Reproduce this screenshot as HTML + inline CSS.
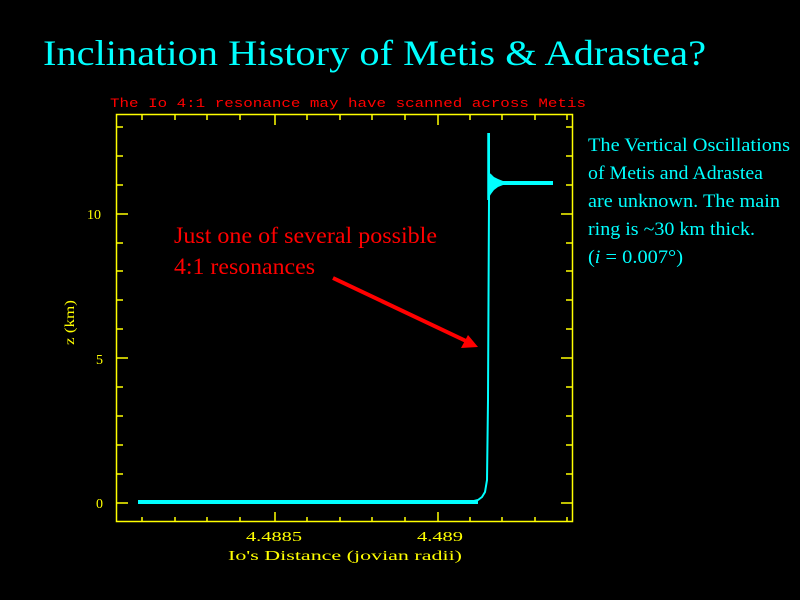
<!DOCTYPE html>
<html><head><style>html,body{margin:0;padding:0;background:#000;}svg{display:block}</style></head>
<body>
<svg width="800" height="600" viewBox="0 0 800 600" xmlns="http://www.w3.org/2000/svg">
<rect width="800" height="600" fill="#000"/>
<text x="43" y="65" font-family="Liberation Serif, serif" font-size="36" fill="#00ffff" textLength="663" lengthAdjust="spacingAndGlyphs">Inclination History of Metis &amp; Adrastea?</text>
<text x="110" y="107" font-family="Liberation Mono, monospace" font-size="13" fill="#ff0000" textLength="476" lengthAdjust="spacingAndGlyphs">The Io 4:1 resonance may have scanned across Metis</text>
<g stroke="#ffff00" stroke-width="1.5" fill="none">
<rect x="116.5" y="114.5" width="456" height="407"/>
<path d="M142 522v-5M175 522v-5M207 522v-5M240 522v-5M275 522v-10M307 522v-5M340 522v-5M372 522v-5M405 522v-5M438 522v-10M470 522v-5M502 522v-5M535 522v-5M567 522v-5
M142 115v5M175 115v5M207 115v5M240 115v5M275 115v10M307 115v5M340 115v5M372 115v5M405 115v5M438 115v10M470 115v5M502 115v5M535 115v5M567 115v5
M117 503h11M117 474h6M117 445h6M117 416h6M117 387h6M117 358h11M117 329h6M117 300h6M117 271h6M117 243h6M117 214h11M117 185h6M117 156h6M117 127h6
M572 503h-11M572 474h-6M572 445h-6M572 416h-6M572 387h-6M572 358h-11M572 329h-6M572 300h-6M572 271h-6M572 243h-6M572 214h-11M572 185h-6M572 156h-6M572 127h-6"/>
</g>
<g font-family="Liberation Serif, serif" font-size="14" fill="#ffff00">
<text x="87" y="219">10</text>
<text x="96" y="364">5</text>
<text x="96" y="508">0</text>
<text x="246" y="541" textLength="56" lengthAdjust="spacingAndGlyphs">4.4885</text>
<text x="417" y="541" textLength="46" lengthAdjust="spacingAndGlyphs">4.489</text>
<text x="228" y="560" textLength="234" lengthAdjust="spacingAndGlyphs">Io's Distance (jovian radii)</text>
<text transform="translate(74,345) rotate(-90)" textLength="45" lengthAdjust="spacingAndGlyphs">z (km)</text>
</g>
<g fill="#00ffff" stroke="#00ffff">
<path d="M138 502H470L478 500L482 497L485 492L487 480L488 400L488.5 300L489 200L489 133" stroke-width="2" fill="none"/>
<path d="M138 502H478" stroke-width="4"/>
<path d="M488 133V200" stroke-width="1.5"/>
<path d="M488 172L491 174L494 177L498 179L503 181L553 181L553 185L503 185L498 187L494 190L491 194L488 199Z" stroke="none"/>
</g>
<g font-family="Liberation Serif, serif" font-size="19" fill="#00ffff">
<text x="588" y="151" textLength="202" lengthAdjust="spacingAndGlyphs">The Vertical Oscillations</text>
<text x="588" y="179" textLength="175" lengthAdjust="spacingAndGlyphs">of Metis and Adrastea</text>
<text x="588" y="207" textLength="192" lengthAdjust="spacingAndGlyphs">are unknown. The main</text>
<text x="588" y="235" textLength="167" lengthAdjust="spacingAndGlyphs">ring is ~30 km thick.</text>
<text x="588" y="263" textLength="95" lengthAdjust="spacingAndGlyphs">(<tspan font-style="italic">i</tspan> = 0.007°)</text>
</g>
<g font-family="Liberation Serif, serif" font-size="23" fill="#ff0000">
<text x="174" y="243" textLength="263" lengthAdjust="spacingAndGlyphs">Just one of several possible</text>
<text x="174" y="274" textLength="141" lengthAdjust="spacingAndGlyphs">4:1 resonances</text>
</g>
<line x1="333" y1="278" x2="466" y2="341" stroke="#ff0000" stroke-width="4"/>
<polygon points="478,347 461,348 468,335" fill="#ff0000"/>
</svg>
</body></html>
